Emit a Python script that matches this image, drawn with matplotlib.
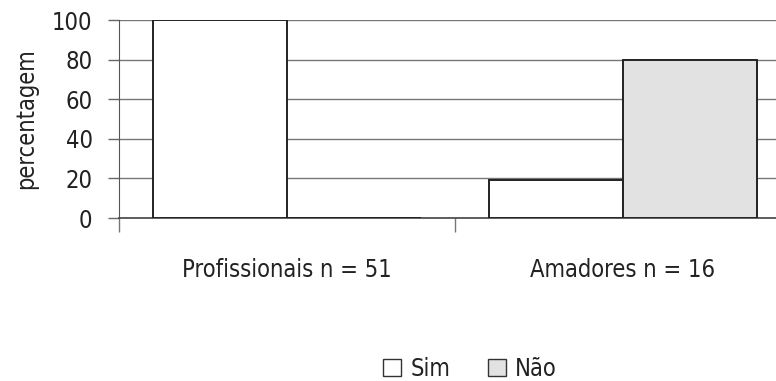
import matplotlib

matplotlib.use("Agg")

import matplotlib.pyplot as plt
import numpy as np
from matplotlib.patches import Patch

categories = ["Profissionais n = 51", "Amadores n = 16"]
sim = [100, 19]
nao = [0, 80]
series_labels = ["Sim", "Não"]
yticks = [0, 20, 40, 60, 80, 100]

plt.rcParams["font.family"] = ["DejaVu Sans"]
plt.rcParams["font.stretch"] = "condensed"
plt.rcParams["text.color"] = "#222222"
plt.rcParams["axes.labelcolor"] = "#222222"
plt.rcParams["xtick.labelcolor"] = "#222222"
plt.rcParams["ytick.labelcolor"] = "#222222"

fig = plt.figure(figsize=(7.76, 3.81), dpi=100)
ax = fig.add_axes([119 / 776, 163 / 381, 672 / 776, 198 / 381])

x = np.arange(len(categories))
width = 0.4
ax.bar(x - width / 2, sim, width, color="white", edgecolor="#222222", linewidth=1.4, zorder=3)
ax.bar(x + width / 2, nao, width, color="#e2e2e2", edgecolor="#222222", linewidth=1.4, zorder=3)

ax.set_xlim(-0.5, len(categories) - 0.5)
ax.set_ylim(0, 100)
ax.set_yticks(yticks)
ax.tick_params(axis="y", labelsize=17, length=8, width=1, color="#666666", pad=11)
ax.yaxis.grid(True, color="#777777", linewidth=1, zorder=0)

ax.set_xticks(x)
ax.set_xticklabels(categories, fontsize=17)
ax.tick_params(axis="x", which="major", length=0, pad=29)
ax.set_xticks(np.arange(len(categories)) - 0.5, minor=True)
ax.tick_params(axis="x", which="minor", length=10, width=1, color="#777777")

for side in ["top", "right"]:
    ax.spines[side].set_visible(False)
ax.spines["left"].set_color("#555555")
ax.spines["bottom"].set_color("#444444")
ax.spines["bottom"].set_linewidth(1.2)

ax.set_ylabel("percentagem", fontsize=17, labelpad=10)

handles = [
    Patch(facecolor="white", edgecolor="#333333", linewidth=1),
    Patch(facecolor="#e2e2e2", edgecolor="#333333", linewidth=1),
]
fig.legend(handles, series_labels, loc="lower center", bbox_to_anchor=(0.606, -0.055),
           ncol=2, frameon=False, fontsize=17, handlelength=0.75, handleheight=0.75,
           handletextpad=0.4, columnspacing=1.6)

fig.savefig("out.png", dpi=100)
